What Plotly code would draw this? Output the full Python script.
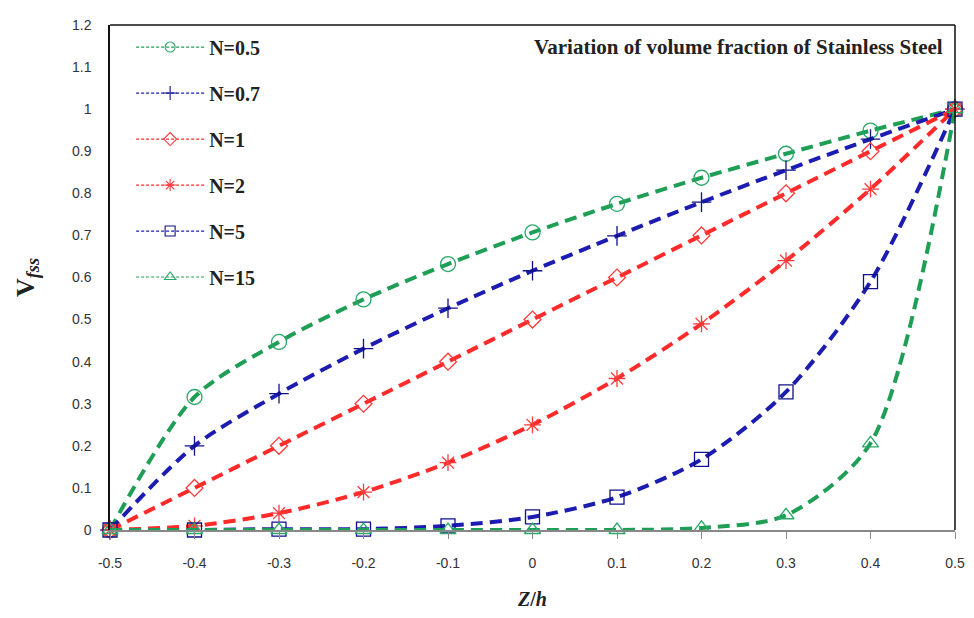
import plotly.graph_objects as go

z = [-0.5, -0.4, -0.3, -0.2, -0.1, 0.0, 0.1, 0.2, 0.3, 0.4, 0.5]
n05 = [0.0, 0.316, 0.447, 0.548, 0.632, 0.707, 0.775, 0.837, 0.894, 0.949, 1.0]
n07 = [0.0, 0.2, 0.324, 0.431, 0.527, 0.616, 0.699, 0.779, 0.855, 0.929, 1.0]
n1 = [0.0, 0.1, 0.2, 0.3, 0.4, 0.5, 0.6, 0.7, 0.8, 0.9, 1.0]
n2 = [0.0, 0.01, 0.04, 0.09, 0.16, 0.25, 0.36, 0.49, 0.64, 0.81, 1.0]
n5 = [0.0, 0.0, 0.002, 0.002, 0.01, 0.031, 0.078, 0.168, 0.328, 0.59, 1.0]
n15 = [0.0, 0.0, 0.0, 0.0, 0.0, 0.0, 0.0, 0.005, 0.035, 0.206, 1.0]
x_ticks = ["-0.5", "-0.4", "-0.3", "-0.2", "-0.1", "0", "0.1", "0.2", "0.3", "0.4", "0.5"]
y_vals = [0, 0.1, 0.2, 0.3, 0.4, 0.5, 0.6, 0.7, 0.8, 0.9, 1, 1.1, 1.2]
y_ticks = ["0", "0.1", "0.2", "0.3", "0.4", "0.5", "0.6", "0.7", "0.8", "0.9", "1", "1.1", "1.2"]

series = [
    ("N=0.5", n05, "#1f9e55", "#2aa868", "circle-open", 15),
    ("N=0.7", n07, "#1c1cb0", "#10108a", "cross-thin-open", 14),
    ("N=1", n1, "#ff2a2a", "#ff3a3a", "diamond-open", 13),
    ("N=2", n2, "#ff2a2a", "#ff3a3a", "asterisk-open", 14),
    ("N=5", n5, "#1c1cb0", "#10108a", "square-open", 14),
    ("N=15", n15, "#1f9e55", "#2aa868", "triangle-up-open", 14),
]

fig = go.Figure()
for name, ys, lc, mc, sym, sz in series:
    fig.add_trace(go.Scatter(
        x=z, y=ys, name=name, mode="lines+markers", showlegend=False,
        line=dict(color=lc, width=4, dash="12px,7px", shape="spline", smoothing=0.8),
        marker=dict(symbol=sym, size=sz, color=mc, line=dict(color=mc, width=1.3)),
        cliponaxis=False,
    ))
# legend-only entries (thin dashed line, small marker) like the reference legend
for name, ys, lc, mc, sym, sz in series:
    fig.add_trace(go.Scatter(
        x=[None], y=[None], name="<b>" + name + "</b>", mode="lines+markers",
        legendgroup=name,
        line=dict(color=lc, width=1.2, dash="3px,2px"),
        marker=dict(symbol=sym, size=10, color=mc, line=dict(color=mc, width=1.1)),
    ))

fig.update_layout(
    width=966, height=610,
    margin=dict(l=102, r=10, t=9, b=88),
    paper_bgcolor="white", plot_bgcolor="white",
    showlegend=True,
    legend=dict(x=0.025, y=0.995, xanchor="left", yanchor="top",
                bgcolor="rgba(0,0,0,0)", tracegroupgap=17,
                font=dict(family="Liberation Serif", size=20, color="#222"),
                itemwidth=68),
    xaxis=dict(range=[-0.5, 0.5], tickvals=z, ticktext=x_ticks,
               showgrid=False, zeroline=False, showline=True, linecolor="#888", linewidth=1.5,
               ticks="outside", ticklen=7, tickcolor="#888", ticklabelstandoff=12,
               tickfont=dict(family="Liberation Sans", size=14, color="#333"),
               title=dict(text="<b><i>Z</i>/<i>h</i></b>", font=dict(family="Liberation Serif", size=20, color="#222"), standoff=22)),
    yaxis=dict(range=[0, 1.2], tickvals=y_vals, ticktext=y_ticks,
               showgrid=False, zeroline=False, showline=True, linecolor="#111", linewidth=1.5,
               ticks="", ticklabelstandoff=14,
               tickfont=dict(family="Liberation Sans", size=14, color="#333"),
               title=dict(text="<b>V</b><sub><b><i>fss</i></b></sub>", font=dict(family="Liberation Serif", size=26, color="#222"), standoff=30)),
    shapes=[
        dict(type="line", xref="paper", yref="paper", x0=0, x1=1, y0=1, y1=1, line=dict(color="#111", width=1.5)),
        dict(type="line", xref="paper", yref="paper", x0=1, x1=1, y0=0, y1=1, line=dict(color="#111", width=1.5)),
    ],
    annotations=[
        dict(text="<b>Variation of volume fraction of Stainless Steel</b>", xref="paper", yref="paper",
             x=0.988, y=0.985, xanchor="right", yanchor="top", showarrow=False,
             font=dict(family="Liberation Serif", size=21, color="#222")),
    ],
)

fig.write_html("out.html")
